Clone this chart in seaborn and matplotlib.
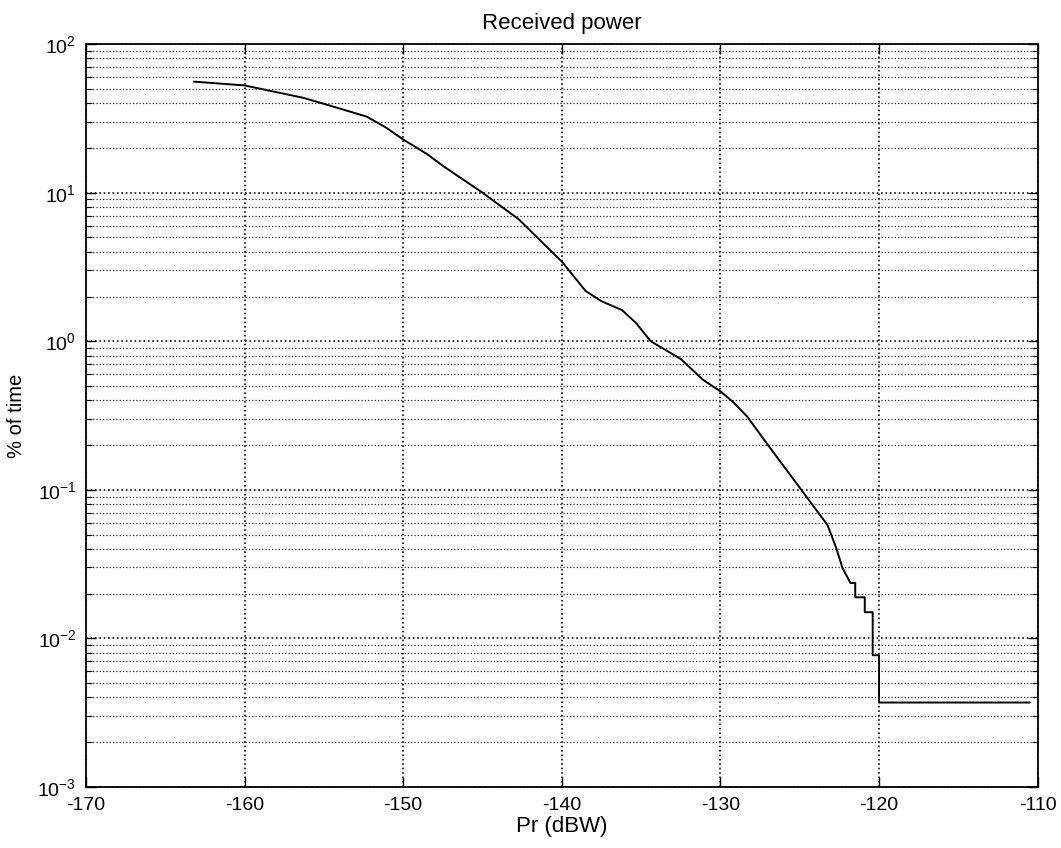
import numpy as np
import pandas as pd
import matplotlib
matplotlib.use("Agg")
import matplotlib.pyplot as plt
from matplotlib.ticker import LogLocator, NullFormatter
import seaborn as sns

# Received power exceedance curve: percentage of time the power level is exceeded
power_dbw = [-163.2, -160.0, -156.3, -154.6, -152.3, -151.1, -150.0, -148.5,
             -147.4, -145.0, -142.7, -141.3, -140.0, -138.5, -137.5, -136.2,
             -135.3, -134.4, -132.5, -131.1, -130.0, -129.2, -128.3, -127.0,
             -124.9, -123.6, -123.25, -122.7, -122.3, -121.8, -121.5, -121.5,
             -120.9, -120.9, -120.4, -120.4, -120.0, -120.0, -110.5]
pct_time = [55.9, 52.7, 43.5, 38.5, 32.5, 27.5, 22.8, 18.2,
            14.9, 10.0, 6.6, 4.7, 3.44, 2.18, 1.86, 1.62,
            1.32, 1.0, 0.76, 0.55, 0.46, 0.39, 0.31, 0.20,
            0.10, 0.065, 0.058, 0.0406, 0.0297, 0.0236, 0.0236, 0.0189,
            0.0189, 0.015, 0.015, 0.0077, 0.0077, 0.0037, 0.0037]

x_ticks = [-170, -160, -150, -140, -130, -120, -110]

title_text = "Received power"
x_label = "Pr (dBW)"
y_label = "% of time"

sns.set_theme(style="ticks")
plt.rcParams["font.family"] = ["Liberation Sans", "DejaVu Sans"]
plt.rcParams["axes.unicode_minus"] = False
plt.rcParams["mathtext.default"] = "regular"

df = pd.DataFrame({"power": power_dbw, "pct": pct_time})

fig = plt.figure(figsize=(10.61, 8.48), dpi=100, facecolor="white")
ax = fig.add_axes([0.081, 0.072, 0.897, 0.876])
ax.set_facecolor("white")
ax.set_yscale("log")

sns.lineplot(data=df, x="power", y="pct", estimator=None, sort=False,
             color="black", linewidth=1.4, ax=ax)

ax.set_xlim(-170, -110)
ax.set_ylim(1e-3, 1e2)
ax.set_xticks(x_ticks)
ax.set_xticklabels([str(t) for t in x_ticks])
ax.yaxis.set_major_locator(LogLocator(base=10, numticks=10))
ax.yaxis.set_minor_locator(LogLocator(base=10, subs=np.arange(2, 10), numticks=100))
ax.yaxis.set_minor_formatter(NullFormatter())

# dotted grid on every decade and sub-decade, plus the x ticks
ax.grid(True, which="major", axis="both", linestyle=":", color="#111111", linewidth=1.2)
ax.grid(True, which="minor", axis="y", linestyle=":", color="#2a2a2a", linewidth=0.9)
ax.set_axisbelow(True)

for s in ax.spines.values():
    s.set_visible(True)
    s.set_color("black")
    s.set_linewidth(1.3)

ax.tick_params(which="major", direction="in", length=7, width=1.0,
               top=True, right=True, labelsize=14, colors="black", pad=7)
ax.tick_params(which="minor", direction="in", length=4, width=0.8,
               left=True, right=True, colors="black")

ax.set_title(title_text, fontsize=16, pad=11, color="black")
ax.set_xlabel(x_label, fontsize=16, labelpad=2, color="black")
ax.set_ylabel(y_label, fontsize=14.5, labelpad=8, color="black")

fig.savefig("out.png", dpi=100, facecolor="white")
